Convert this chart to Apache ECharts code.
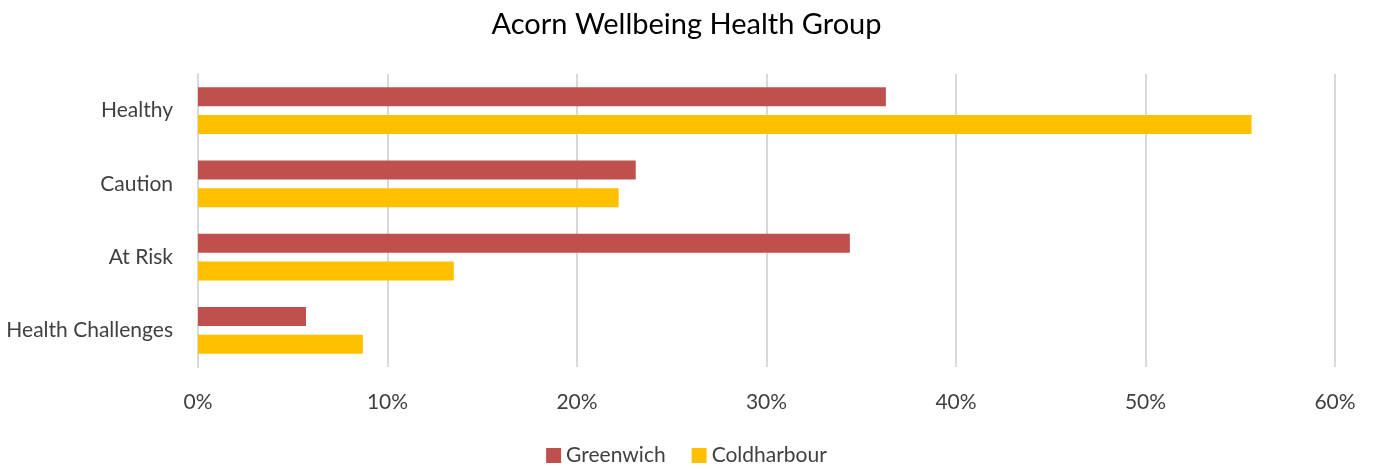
<!DOCTYPE html>
<html>
<head>
<meta charset="utf-8">
<title>Acorn Wellbeing Health Group</title>
<script src="https://cdn.jsdelivr.net/npm/echarts@6/dist/echarts.min.js"></script>
<style>
    html, body { margin: 0; padding: 0; background: #fff; }
    #chart { width: 1373px; height: 469px; }
</style>
</head>
<body>
<div id="chart"></div>
<script>
/* ------------------------------------ 数据 ------------------------------------ */
let categories = ['Healthy', 'Caution', 'At Risk', 'Health Challenges'];
let greenwich = [36.3, 23.1, 34.4, 5.7];
let coldharbour = [55.6, 22.2, 13.5, 8.7];
let xTicks = [0, 10, 20, 30, 40, 50, 60];

/* ------------------------------------ 配置 ------------------------------------ */
let font = 'Lato';
let option = {
    title: {
        text: 'Acorn Wellbeing Health Group',
        left: 'center',
        top: 5,
        textStyle: { fontFamily: font, fontSize: 29, fontWeight: 'normal', color: '#000' }
    },
    legend: {
        bottom: -2,
        left: 'center',
        itemWidth: 15,
        itemHeight: 15,
        itemGap: 26,
        icon: 'rect',
        textStyle: { fontFamily: font, fontSize: 21, color: '#404040' },
        data: ['Greenwich', 'Coldharbour']
    },
    grid: {
        left: 198,
        right: 38,
        top: 74,
        bottom: 102
    },
    xAxis: {
        type: 'value',
        min: xTicks[0],
        max: xTicks[xTicks.length - 1],
        interval: 10,
        axisLine: { show: false },
        axisTick: { show: false },
        splitLine: { lineStyle: { color: '#d9d9d9', width: 2 } },
        axisLabel: {
            margin: 25,
            fontFamily: font,
            fontSize: 21,
            color: '#404040',
            formatter: '{value}%'
        }
    },
    yAxis: {
        type: 'category',
        inverse: true,
        data: categories,
        axisLine: { show: true, lineStyle: { color: '#d9d9d9', width: 2 } },
        axisTick: { show: false },
        axisLabel: {
            margin: 25,
            fontFamily: font,
            fontSize: 21,
            color: '#404040'
        }
    },
    series: [
        {
            name: 'Greenwich',
            type: 'bar',
            data: greenwich,
            barWidth: 19,
            barGap: '45%',
            itemStyle: { color: '#C0504D' }
        },
        {
            name: 'Coldharbour',
            type: 'bar',
            data: coldharbour,
            barWidth: 19,
            barGap: '45%',
            itemStyle: { color: '#FFC000' }
        }
    ]
};

let myChart = echarts.init(document.querySelector('#chart'));
myChart.setOption(option);
</script>
</body>
</html>
